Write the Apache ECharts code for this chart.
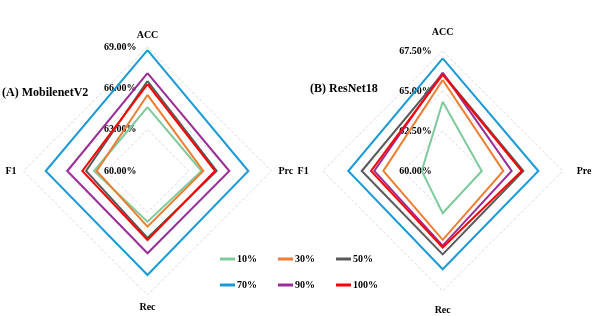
<!DOCTYPE html>
<html>
<head>
<meta charset="utf-8">
<script src="https://cdn.jsdelivr.net/npm/echarts@6/dist/echarts.min.js"></script>
<style>html,body{margin:0;padding:0;background:#fff}#c{width:592px;height:316px}</style>
</head>
<body>
<div id="c"></div>
<script>
// Indicator order: counter-clockwise from top (ACC, F1, Rec, Prc)
const namesA = ['ACC', 'F1', 'Rec', 'Prc'];
const namesB = ['ACC', 'F1', 'Rec', 'Pre'];
const seriesNames = ['10%', '30%', '50%', '70%', '90%', '100%'];
const colors = ['#7dca9b', '#ed7d31', '#595959', '#1b9ad6', '#9a2d96', '#ff0000'];
// Chart A (MobilenetV2): values [ACC, F1, Rec, Prc]
const valuesA = [
  [64.64, 63.88, 63.68, 63.92],
  [65.52, 63.69, 64.04, 64.05],
  [66.53, 64.46, 64.86, 65.02],
  [68.78, 67.39, 67.55, 67.32],
  [67.11, 65.82, 65.97, 65.94],
  [66.31, 64.73, 65.01, 64.90]
];
// Chart B (ResNet18): values [ACC, F1, Rec, Pre]
const valuesB = [
  [64.33, 61.31, 62.64, 62.44],
  [65.69, 63.71, 64.30, 63.79],
  [66.08, 65.06, 65.21, 65.04],
  [67.04, 65.90, 66.14, 65.98],
  [66.15, 64.28, 64.66, 64.31],
  [66.02, 64.48, 64.78, 64.94]
];
const rangeA = [60, 69];
const rangeB = [60, 67.5];

const serif = '"Liberation Serif", "DejaVu Serif", serif';
function indicators(names, range) {
  return names.map((n, i) => {
    const o = { name: n, min: range[0], max: range[1] };
    if (i !== 0) o.axisLabel = { show: false };
    return o;
  });
}
function radar(center, radius, names, range, gap) {
  return {
    center: center, radius: radius, startAngle: 90, splitNumber: 3,
    shape: 'polygon',
    indicator: indicators(names, range),
    axisName: { color: '#000', fontFamily: serif, fontWeight: 'bold', fontSize: 10 },
    nameGap: gap,
    axisLine: { show: false },
    axisTick: { show: false },
    splitArea: { show: false },
    splitLine: { lineStyle: { color: '#d9d9d9', type: [3, 2], width: 1 } },
    axisLabel: {
      show: true, color: '#000', fontFamily: serif, fontWeight: 'bold', fontSize: 10, margin: 11,
      formatter: v => v.toFixed(2) + '%'
    }
  };
}
function radarSeries(idx, values) {
  return {
    type: 'radar', radarIndex: idx, symbol: 'none', silent: true,
    data: values.map((v, i) => ({
      name: seriesNames[i], value: v,
      lineStyle: { color: colors[i], width: 2, join: 'miter' },
      itemStyle: { color: colors[i] }
    }))
  };
}
const legendBase = {
  icon: 'rect', itemWidth: 15, itemHeight: 3, itemGap: 21, left: 220, padding: 0,
  textStyle: { color: '#000', fontFamily: serif, fontWeight: 'bold', fontSize: 10, padding: [0, 0, 0, -3] }
};
const chart = echarts.init(document.getElementById('c'), null, { renderer: 'canvas' });
chart.setOption({
  animation: false,
  color: colors,
  title: [
    { text: '(A) MobilenetV2', left: -3, top: 82, textStyle: { fontFamily: serif, fontWeight: 'bold', fontSize: 12, color: '#000' } },
    { text: '(B) ResNet18', left: 305, top: 78, textStyle: { fontFamily: serif, fontWeight: 'bold', fontSize: 12, color: '#000' } }
  ],
  legend: [
    Object.assign({}, legendBase, { top: 254, data: seriesNames.slice(0, 3) }),
    Object.assign({}, legendBase, { top: 280, data: seriesNames.slice(3) })
  ],
  radar: [
    radar([147.5, 171], 124, namesA, rangeA, 7),
    radar([442.7, 171], 120, namesB, rangeB, 14)
  ],
  series: [radarSeries(0, valuesA), radarSeries(1, valuesB)]
});
</script>
</body>
</html>
